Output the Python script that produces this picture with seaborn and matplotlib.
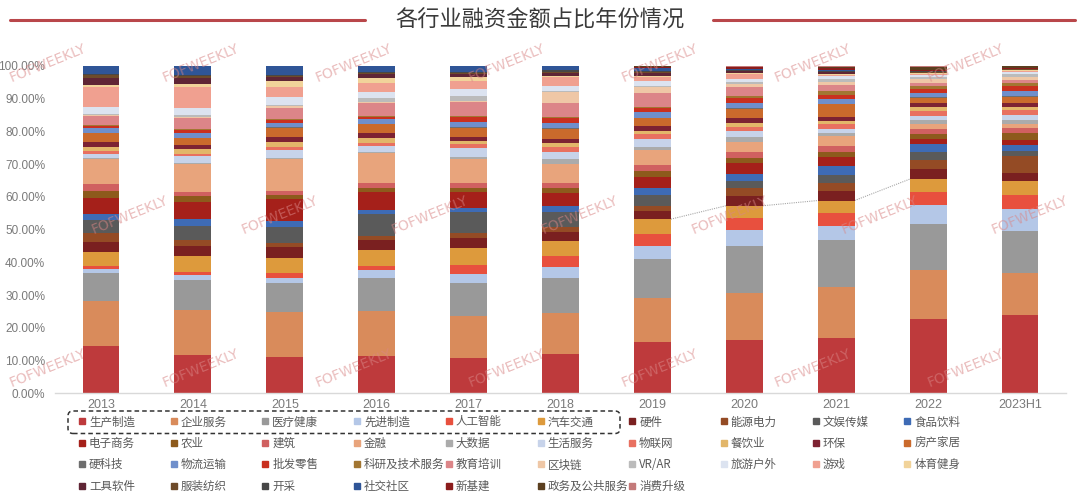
import numpy as np
import pandas as pd
import matplotlib
matplotlib.use("Agg")
import matplotlib.pyplot as plt
import matplotlib.patches as mpatches
from matplotlib.lines import Line2D
from matplotlib.transforms import IdentityTransform
import seaborn as sns

years = ["2013", "2014", "2015", "2016", "2017", "2018", "2019", "2020", "2021", "2022", "2023H1"]

industries = ["生产制造", "企业服务", "医疗健康", "先进制造", "人工智能", "汽车交通", "硬件", "能源电力", "文娱传媒", "食品饮料",
              "电子商务", "农业", "建筑", "金融", "大数据", "生活服务", "物联网", "餐饮业", "环保", "房产家居",
              "硬科技", "物流运输", "批发零售", "科研及技术服务", "教育培训", "区块链", "VR/AR", "旅游户外", "游戏", "体育健身",
              "工具软件", "服装纺织", "开采", "社交社区", "新基建", "政务及公共服务", "消费升级"]

colors = ["#BE3A3C", "#D98B5B", "#999999", "#B4C7E7", "#E8503E", "#DD9A3C", "#7A2020", "#944B25", "#5A5A5A", "#3E6BB5",
          "#A5201A", "#8D5A1C", "#D06060", "#E8A47C", "#ABABAB", "#C7D3EA", "#E87060", "#E2B66A", "#7D2232", "#CA6A2C",
          "#6E6E6E", "#6F8FCB", "#C9301F", "#A27632", "#DC8588", "#EFC7A6", "#BBBBBB", "#DCE3F0", "#F0A090", "#F1D39A",
          "#5F2535", "#6E4B2A", "#474747", "#2F5597", "#8B1C1C", "#5B3F1F", "#C47A7A"]

# share (%) per year, one list per year, in industry order
s2013 = [14.3, 14.0, 8.6, 1.1, 1.0, 4.1, 3.2, 2.6, 4.1, 1.8, 5.0, 2.0, 2.2, 7.5, 0.3, 1.3, 0.8, 1.2, 1.8, 2.5,
         0.2, 1.6, 0.4, 0.3, 2.8, 0.3, 0.3, 2.3, 6.1, 0.4, 2.3, 0.8, 0.3, 2.5, 0.0, 0.0, 0.0]
s2014 = [11.7, 13.8, 9.1, 1.6, 1.0, 4.6, 3.3, 1.7, 4.4, 2.1, 5.3, 1.7, 1.3, 8.4, 0.3, 2.2, 0.7, 1.3, 1.4, 2.0,
         0.2, 1.3, 0.9, 0.3, 3.6, 0.3, 0.4, 2.4, 6.4, 0.7, 1.8, 0.8, 0.3, 2.7, 0.0, 0.0, 0.0]
s2015 = [11.2, 13.7, 8.7, 1.7, 1.4, 4.7, 3.2, 1.2, 5.1, 1.7, 6.8, 1.2, 1.3, 9.6, 0.3, 2.5, 1.1, 1.5, 1.5, 2.8,
         0.2, 1.3, 0.8, 0.3, 3.5, 0.4, 0.5, 2.4, 3.1, 1.7, 1.3, 0.3, 0.3, 2.7, 0.0, 0.0, 0.0]
s2016 = [11.4, 13.8, 9.9, 2.6, 1.3, 4.8, 3.0, 1.4, 6.5, 1.3, 5.6, 1.2, 1.4, 9.1, 0.3, 2.1, 0.7, 1.7, 1.3, 2.8,
         0.2, 1.3, 0.8, 0.3, 4.0, 0.3, 1.2, 1.9, 2.7, 1.5, 1.3, 0.3, 0.2, 1.8, 0.0, 0.0, 0.0]
s2017 = [10.7, 12.9, 10.0, 2.8, 2.8, 5.1, 3.1, 1.5, 6.4, 1.4, 4.9, 1.2, 1.4, 7.4, 0.7, 2.5, 1.3, 1.0, 1.3, 2.8,
         0.2, 1.6, 1.5, 0.3, 4.3, 0.3, 1.5, 2.0, 2.5, 1.3, 0.9, 0.3, 0.3, 1.8, 0.0, 0.0, 0.0]
s2018 = [12.1, 12.5, 10.7, 3.2, 3.6, 4.5, 2.8, 1.5, 4.6, 1.7, 4.1, 1.3, 1.6, 5.8, 1.6, 2.0, 1.5, 1.3, 1.3, 3.1,
         0.2, 1.5, 1.5, 0.3, 4.3, 3.6, 0.3, 1.4, 2.8, 0.3, 0.8, 0.5, 0.5, 1.2, 0.0, 0.0, 0.0]
s2019 = [15.6, 13.4, 12.0, 4.1, 3.6, 4.5, 2.5, 1.6, 3.3, 2.0, 3.6, 1.7, 1.7, 4.7, 1.1, 2.2, 1.5, 1.0, 1.6, 2.3,
         0.2, 1.6, 1.3, 0.3, 4.2, 2.1, 0.3, 1.4, 1.3, 0.3, 0.8, 0.3, 0.3, 1.0, 0.3, 0.3, 0.0]
s2020 = [16.3, 14.2, 14.6, 4.8, 3.6, 3.8, 3.1, 2.2, 2.3, 2.0, 3.4, 1.5, 1.8, 3.1, 1.7, 1.7, 1.4, 1.2, 1.3, 2.9,
         0.2, 1.5, 1.5, 0.7, 2.7, 0.9, 0.6, 1.0, 1.5, 0.3, 0.6, 0.2, 0.3, 0.2, 0.5, 0.2, 0.2]
s2021 = [16.8, 15.6, 14.4, 4.4, 4.0, 3.7, 2.9, 2.6, 2.3, 2.8, 2.8, 1.3, 2.1, 2.9, 1.0, 1.2, 1.4, 1.0, 1.3, 3.8,
         0.2, 1.4, 1.2, 1.3, 1.8, 1.0, 0.8, 0.9, 0.5, 0.3, 0.4, 0.2, 0.2, 0.2, 0.6, 0.5, 0.2]
s2022 = [22.9, 14.8, 14.2, 5.8, 4.1, 3.9, 3.2, 2.7, 2.4, 2.4, 1.5, 1.7, 1.6, 1.3, 1.3, 1.4, 1.4, 1.3, 1.2, 1.5,
         0.2, 1.2, 1.4, 1.0, 0.8, 1.2, 0.5, 0.6, 0.3, 0.3, 0.3, 0.2, 0.2, 0.2, 0.3, 0.9, 0.2]
s2023 = [23.9, 12.8, 13.0, 6.6, 4.3, 4.3, 2.5, 5.1, 1.5, 1.9, 1.5, 2.0, 1.8, 1.0, 1.3, 1.5, 1.6, 1.0, 1.2, 1.8,
         0.2, 1.6, 1.5, 0.8, 1.0, 1.0, 0.8, 0.8, 0.2, 0.2, 0.2, 0.1, 0.1, 0.1, 0.2, 0.5, 0.1]

shares = pd.DataFrame(
    np.array([s2013, s2014, s2015, s2016, s2017, s2018, s2019, s2020, s2021, s2022, s2023]).T,
    index=industries, columns=years)
shares = shares / shares.sum(axis=0) * 100.0  # shares of each year total 100%

sns.set_theme(style="white")
plt.rcParams["font.family"] = ["Noto Sans CJK SC", "DejaVu Sans"]

W, H = 1080, 504
fig = plt.figure(figsize=(W / 100, H / 100), dpi=100)
fig.patch.set_facecolor("white")

ax_left, ax_right, ax_bottom, ax_top = 55, 1066, 393.3, 66
ax = fig.add_axes([ax_left / W, 1 - ax_bottom / H, (ax_right - ax_left) / W, (ax_bottom - ax_top) / H])

x = np.arange(len(years))
bw = 0.40
bottom = np.zeros(len(years))
tops = {}
for ind, col in zip(industries, colors):
    vals = shares.loc[ind].values
    ax.bar(x, vals, bottom=bottom, width=bw, color=col, edgecolor="none", linewidth=0, zorder=2)
    bottom = bottom + vals
    tops[ind] = bottom.copy()

# series lines (汽车交通) between 2019 and 2022
car_top = tops["汽车交通"]
for i in range(6, 9):
    ax.plot([x[i] + bw / 2, x[i + 1] - bw / 2], [car_top[i], car_top[i + 1]],
            color="#a8a8a8", lw=0.8, ls=(0, (1, 1)), zorder=1)

ax.set_xlim(-0.5, len(years) - 0.5)
ax.set_ylim(0, 100)
ax.set_xticks(x)
ax.set_xticklabels(years)
ax.set_yticks(np.arange(0, 101, 10))
ax.set_yticklabels([f"{v:.2f}%" for v in np.arange(0, 101, 10)])
tick_font = ["Liberation Sans Narrow", "Liberation Sans", "DejaVu Sans"]
for lab in ax.get_yticklabels():
    lab.set_family(tick_font)
    lab.set_fontsize(8.5)
    lab.set_color("#7a7a7a")
for lab in ax.get_xticklabels():
    lab.set_family(tick_font)
    lab.set_fontsize(9)
    lab.set_color("#7a7a7a")
ax.tick_params(axis="both", length=0)
ax.tick_params(axis="y", pad=7)
ax.tick_params(axis="x", pad=4)
for side in ["left", "right", "top"]:
    ax.spines[side].set_visible(False)
ax.spines["bottom"].set_color("#d9d9d9")
ax.spines["bottom"].set_linewidth(1.0)
ax.grid(False)

# title with red rules
ty = 1 - 20.5 / H
fig.text(0.5, ty, "各行业融资金额占比年份情况", ha="center", va="center", fontsize=16, color="#3a3a3a")
fig.add_artist(Line2D([10 / W, 365 / W], [1 - 19.5 / H, 1 - 19.5 / H], transform=fig.transFigure,
                      color="#b9474a", lw=2.2))
fig.add_artist(Line2D([713 / W, 1075 / W], [1 - 19.5 / H, 1 - 19.5 / H], transform=fig.transFigure,
                      color="#b9474a", lw=2.2))

# legend: 10 columns, row-major
col_x0, col_dx = 78.0, 91.7
row_y0, row_dy = 422.0, 21.4
for i, (ind, col) in enumerate(zip(industries, colors)):
    c, r = i % 10, i // 10
    h = Line2D([], [], marker="s", color=col, linestyle="", markersize=4.2)
    lg = fig.legend([h], [ind], loc="center left",
                    bbox_to_anchor=((col_x0 + c * col_dx) / W, 1 - (row_y0 + r * row_dy) / H),
                    bbox_transform=fig.transFigure, frameon=False, fontsize=8.3,
                    handlelength=0.7, handletextpad=0.25, borderpad=0, borderaxespad=0,
                    labelcolor="#595959")

# dashed selection box around first legend row (first six items)
box = mpatches.FancyBboxPatch((68, H - 433.5), 552, 22.5,
                              boxstyle="round,pad=0,rounding_size=5",
                              linewidth=1.1, edgecolor="#333333", facecolor="none",
                              linestyle=(0, (3, 2)), transform=IdentityTransform())
fig.add_artist(box)

# watermarks
wm_pos = []
for k in range(7):
    wm_pos.append((48 + 153 * k, 63))
    wm_pos.append((48 + 153 * k, 368))
for k in range(7):
    wm_pos.append((130 + 150 * k, 215))
for (px, py) in wm_pos:
    fig.text(px / W, 1 - py / H, "FOFWEEKLY", ha="center", va="center", rotation=22,
             fontsize=10, color="#d98686", alpha=0.55, family="DejaVu Sans", zorder=10)

fig.savefig("out.png", dpi=100, facecolor="white")
